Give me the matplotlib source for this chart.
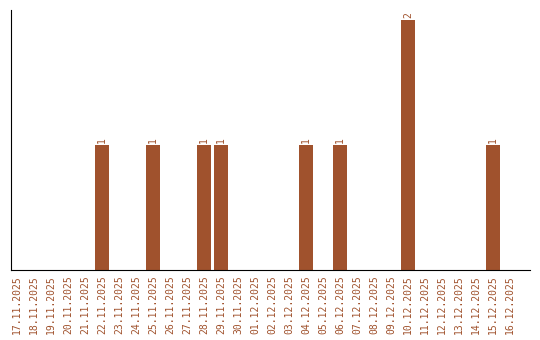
import matplotlib
matplotlib.use("Agg")
import matplotlib.pyplot as plt

dates = ["17.11.2025", "18.11.2025", "19.11.2025", "20.11.2025", "21.11.2025",
         "22.11.2025", "23.11.2025", "24.11.2025", "25.11.2025", "26.11.2025",
         "27.11.2025", "28.11.2025", "29.11.2025", "30.11.2025", "01.12.2025",
         "02.12.2025", "03.12.2025", "04.12.2025", "05.12.2025", "06.12.2025",
         "07.12.2025", "08.12.2025", "09.12.2025", "10.12.2025", "11.12.2025",
         "12.12.2025", "13.12.2025", "14.12.2025", "15.12.2025", "16.12.2025"]
counts = [0, 0, 0, 0, 0, 1, 0, 0, 1, 0, 0, 1, 1, 0, 0,
          0, 0, 1, 0, 1, 0, 0, 0, 2, 0, 0, 0, 0, 1, 0]

color = "#A0522D"

fig = plt.figure(figsize=(5.4, 3.4), dpi=100)
ax = fig.add_axes([11 / 540, 70 / 340, 519 / 540, 260 / 340])

x = list(range(len(dates)))
ax.bar(x, counts, width=0.82, color=color)
for i, c in enumerate(counts):
    if c > 0:
        ax.text(i, c + 0.02, str(c), rotation=90, ha="center", va="bottom",
                fontsize=7, color=color, family="DejaVu Sans Mono")

ax.set_xlim(-0.35, 30.18)
ax.set_ylim(0, 2.08)
ax.set_xticks(x)
ax.set_xticklabels(dates, rotation=90, fontsize=7, color=color,
                   family="DejaVu Sans Mono")
ax.tick_params(axis="x", length=0, pad=4)
ax.set_yticks([])
ax.spines["top"].set_visible(False)
ax.spines["right"].set_visible(False)

fig.savefig("out.png", dpi=100)
